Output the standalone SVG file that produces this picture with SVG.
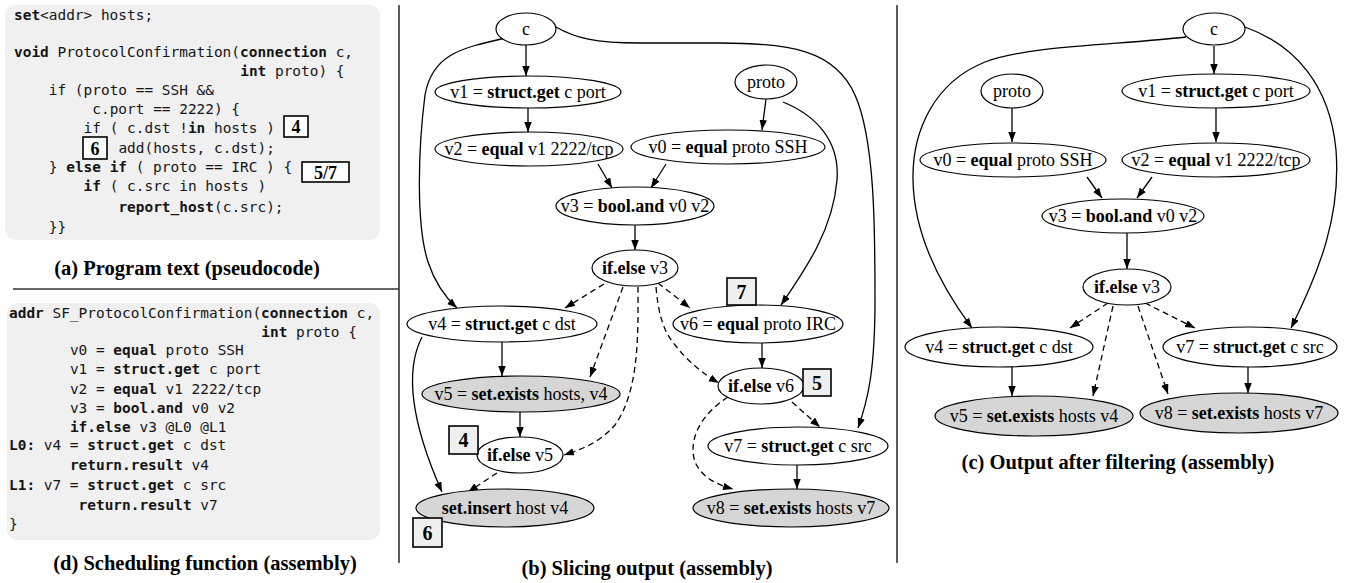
<svg xmlns="http://www.w3.org/2000/svg" width="1347" height="583" viewBox="0 0 1347 583">
<style>
.code{font-family:"DejaVu Sans Mono","Liberation Mono",monospace;font-size:14.45px;fill:#151515;white-space:pre}
.b{font-weight:bold}
.cap{font-family:"Liberation Serif","Times New Roman",serif;font-size:20.5px;font-weight:bold;text-anchor:middle;fill:#000}
.nt{font-family:"Liberation Serif","Times New Roman",serif;font-size:18px;text-anchor:middle;fill:#000}
.node{fill:#fff;stroke:#000;stroke-width:1.2}
.gray{fill:#d6d6d6;stroke:#000;stroke-width:1.2}
.e{fill:none;stroke:#000;stroke-width:1.3;marker-end:url(#ah)}
.d{stroke-dasharray:6,4}
.lbl{fill:#fff;stroke:#000;stroke-width:1.6}
.lblg{fill:#efefef;stroke:#000;stroke-width:1.6}
.ln{font-family:"Liberation Serif","Times New Roman",serif;font-size:20px;font-weight:bold;text-anchor:middle;fill:#000}
.sep{stroke:#333;stroke-width:1.6}
.panel{fill:#f0f0f0;stroke:none}
</style>
<defs>
<marker id="ah" markerUnits="userSpaceOnUse" markerWidth="11" markerHeight="8" refX="10" refY="3.75" orient="auto">
<path d="M0,0 L10,3.75 L0,7.5 z" fill="#000" stroke="none"/>
</marker>
</defs>

<!-- separators -->
<g id="separators">
<line class="sep" x1="13" y1="289" x2="399" y2="289"/>
<line class="sep" x1="399" y1="5" x2="399" y2="563"/>
<line class="sep" x1="897" y1="5" x2="897" y2="563"/>
</g>

<!-- Panel (a) -->
<g id="panel-a">
<rect class="panel" x="5" y="5" width="375" height="235" rx="11"/>
<text class="code" x="14" y="20" xml:space="preserve"><tspan class="b">set</tspan>&lt;addr&gt; hosts;</text>
<text class="code" x="14" y="57" xml:space="preserve"><tspan class="b">void</tspan> ProtocolConfirmation(<tspan class="b">connection</tspan> c,</text>
<text class="code" x="240.2" y="76" xml:space="preserve"><tspan class="b">int</tspan> proto) {</text>
<text class="code" x="48.8" y="95" xml:space="preserve">if (proto == SSH &amp;&amp;</text>
<text class="code" x="92.3" y="114" xml:space="preserve">c.port == 2222) {</text>
<text class="code" x="83.6" y="133" xml:space="preserve">if ( c.dst !<tspan class="b">in</tspan> hosts )</text>
<text class="code" x="118.4" y="153" xml:space="preserve">add(hosts, c.dst);</text>
<text class="code" x="48.8" y="172" xml:space="preserve">} <tspan class="b">else if</tspan> ( proto == IRC ) {</text>
<text class="code" x="83.6" y="191" xml:space="preserve"><tspan class="b">if</tspan> ( c.src in hosts )</text>
<text class="code" x="118.4" y="212" xml:space="preserve"><tspan class="b">report_host</tspan>(c.src);</text>
<text class="code" x="48.8" y="232" xml:space="preserve">}}</text>
<rect class="lbl" x="284" y="116" width="24" height="21"/>
<text class="ln" x="296" y="133" style="font-size:18px">4</text>
<rect class="lbl" x="83" y="137" width="24" height="22"/>
<text class="ln" x="95" y="155" style="font-size:18px">6</text>
<rect class="lbl" x="302" y="162" width="47" height="20"/>
<text class="ln" x="325.5" y="178.5" style="font-size:18px">5/7</text>
<text class="cap" x="187" y="275">(a) Program text (pseudocode)</text>
</g>

<!-- Panel (d) -->
<g id="panel-d">
<rect class="panel" x="7" y="303" width="373" height="237" rx="11"/>
<text class="code" x="9" y="318" xml:space="preserve"><tspan class="b">addr</tspan> SF_ProtocolConfirmation(<tspan class="b">connection</tspan> c,</text>
<text class="code" x="261.3" y="337" xml:space="preserve"><tspan class="b">int</tspan> proto {</text>
<text class="code" x="69.9" y="355" xml:space="preserve">v0 = <tspan class="b">equal</tspan> proto SSH</text>
<text class="code" x="69.9" y="374" xml:space="preserve">v1 = <tspan class="b">struct.get</tspan> c port</text>
<text class="code" x="69.9" y="394" xml:space="preserve">v2 = <tspan class="b">equal</tspan> v1 2222/tcp</text>
<text class="code" x="69.9" y="413" xml:space="preserve">v3 = <tspan class="b">bool.and</tspan> v0 v2</text>
<text class="code" x="69.9" y="432" xml:space="preserve"><tspan class="b">if.else</tspan> v3 @L0 @L1</text>
<text class="code" x="9" y="450" xml:space="preserve"><tspan class="b">L0:</tspan> v4 = <tspan class="b">struct.get</tspan> c dst</text>
<text class="code" x="69.9" y="470" xml:space="preserve"><tspan class="b">return.result</tspan> v4</text>
<text class="code" x="9" y="490" xml:space="preserve"><tspan class="b">L1:</tspan> v7 = <tspan class="b">struct.get</tspan> c src</text>
<text class="code" x="78.6" y="510" xml:space="preserve"><tspan class="b">return.result</tspan> v7</text>
<text class="code" x="9" y="529" xml:space="preserve">}</text>
<text class="cap" x="205" y="570">(d) Scheduling function (assembly)</text>
</g>

<!-- Panel (b) connectors -->
<g id="connectors-b">
<path class="e" d="M526,45 L526,76"/>
<path class="e" d="M506,38 C460,48 432,55 425,95 C418,150 416,225 428,262 C435,283 445,297 457,308"/>
<path class="e" d="M556,27 C575,38 595,43 640,43 L720,43 C790,43 835,50 855,95 C875,140 875,230 875,300 C875,370 868,400 858,428"/>
<path class="e" d="M766,99 L762,130"/>
<path class="e" d="M783,102 C815,115 840,140 837,180 C833,230 805,270 781,305"/>
<path class="e" d="M528,108 L528,132"/>
<path class="e" d="M598,164 L612,188"/>
<path class="e" d="M666,164 L651,188"/>
<path class="e" d="M635,225 L635,250"/>
<path class="e d" d="M604,284 L565,308"/>
<path class="e d" d="M623,287 L590,377"/>
<path class="e d" d="M638,287 C638,330 640,390 615,425 C600,442 585,448 564,455"/>
<path class="e d" d="M658,283 L690,308"/>
<path class="e d" d="M656,287 C658,310 662,330 675,345 C688,362 705,375 719,383"/>
<path class="e" d="M502,342 L502,376"/>
<path class="e" d="M422,337 C405,370 410,420 442,492"/>
<path class="e" d="M520,412 L520,437"/>
<path class="e d" d="M497,473 L468,492"/>
<path class="e" d="M762,343 L762,368"/>
<path class="e d" d="M792,402 L820,427"/>
<path class="e d" d="M728,397 C700,415 688,440 695,462 C702,478 718,485 733,489"/>
<path class="e" d="M797,465 L797,489"/>
</g>

<!-- Panel (b) nodes -->
<g id="b-c"><ellipse class="node" cx="526" cy="29" rx="30" ry="16"/><text class="nt" x="526" y="35">c</text></g>
<g id="b-v1"><ellipse class="node" cx="528" cy="92" rx="93" ry="16"/><text class="nt" x="528" y="98">v1 = <tspan class="b">struct.get</tspan> c port</text></g>
<g id="b-proto"><ellipse class="node" cx="766" cy="82" rx="31" ry="17"/><text class="nt" x="766" y="88">proto</text></g>
<g id="b-v2"><ellipse class="node" cx="529" cy="149" rx="94" ry="17"/><text class="nt" x="529" y="155">v2 = <tspan class="b">equal</tspan> v1 2222/tcp</text></g>
<g id="b-v0"><ellipse class="node" cx="728" cy="147" rx="97" ry="17"/><text class="nt" x="728" y="153">v0 = <tspan class="b">equal</tspan> proto SSH</text></g>
<g id="b-v3"><ellipse class="node" cx="635" cy="206" rx="79" ry="19"/><text class="nt" x="635" y="212">v3 = <tspan class="b">bool.and</tspan> v0 v2</text></g>
<g id="b-ifelse3"><ellipse class="node" cx="635" cy="268" rx="43" ry="18"/><text class="nt" x="635" y="274"><tspan class="b">if.else</tspan> v3</text></g>
<g id="b-v4"><ellipse class="node" cx="502" cy="324" rx="95" ry="18"/><text class="nt" x="502" y="330">v4 = <tspan class="b">struct.get</tspan> c dst</text></g>
<g id="b-v6"><ellipse class="node" cx="758" cy="324" rx="85" ry="19"/><text class="nt" x="758" y="330">v6 = <tspan class="b">equal</tspan> proto IRC</text></g>
<g id="b-v5"><ellipse class="gray" cx="521" cy="394" rx="99" ry="18"/><text class="nt" x="521" y="400">v5 = <tspan class="b">set.exists</tspan> hosts, v4</text></g>
<g id="b-ifelse5"><ellipse class="node" cx="520" cy="455" rx="43" ry="18"/><text class="nt" x="520" y="461"><tspan class="b">if.else</tspan> v5</text></g>
<g id="b-setinsert"><ellipse class="gray" cx="505" cy="508" rx="89" ry="19"/><text class="nt" x="505" y="514"><tspan class="b">set.insert</tspan> host v4</text></g>
<g id="b-ifelse6"><ellipse class="node" cx="761" cy="386" rx="43" ry="18"/><text class="nt" x="761" y="392"><tspan class="b">if.else</tspan> v6</text></g>
<g id="b-v7"><ellipse class="node" cx="798" cy="446" rx="90" ry="19"/><text class="nt" x="798" y="452">v7 = <tspan class="b">struct.get</tspan> c src</text></g>
<g id="b-v8"><ellipse class="gray" cx="791" cy="508" rx="98" ry="19"/><text class="nt" x="791" y="514">v8 = <tspan class="b">set.exists</tspan> hosts v7</text></g>
<g id="b-label4"><rect class="lblg" x="449" y="426" width="29" height="28"/><text class="ln" x="463.5" y="447">4</text></g>
<g id="b-label6"><rect class="lblg" x="413" y="518" width="29" height="29"/><text class="ln" x="427.5" y="540">6</text></g>
<g id="b-label7"><rect class="lblg" x="727" y="278" width="29" height="27"/><text class="ln" x="741.5" y="299">7</text></g>
<g id="b-label5"><rect class="lblg" x="803" y="369" width="28" height="27"/><text class="ln" x="817" y="390">5</text></g>
<text class="cap" x="647" y="575">(b) Slicing output (assembly)</text>

<!-- Panel (c) connectors -->
<g id="connectors-c">
<path class="e" d="M1214,46 L1214,74"/>
<path class="e" d="M1186,37 C1120,45 1030,45 985,62 C935,82 912,130 913,180 C914,235 940,285 972,328"/>
<path class="e" d="M1245,27 C1295,45 1330,85 1336,150 C1341,215 1320,270 1291,328"/>
<path class="e" d="M1012,108 L1012,142"/>
<path class="e" d="M1216,108 L1216,142"/>
<path class="e" d="M1087,177 L1102,198"/>
<path class="e" d="M1152,177 L1137,198"/>
<path class="e" d="M1127,233 L1127,269"/>
<path class="e d" d="M1108,303 L1070,328"/>
<path class="e d" d="M1113,306 L1093,396"/>
<path class="e d" d="M1138,306 L1168,394"/>
<path class="e d" d="M1145,303 L1195,328"/>
<path class="e" d="M1012,367 L1012,396"/>
<path class="e" d="M1248,367 L1248,393"/>
</g>

<!-- Panel (c) nodes -->
<g id="c-c"><ellipse class="node" cx="1214" cy="29" rx="31" ry="16"/><text class="nt" x="1214" y="35">c</text></g>
<g id="c-proto"><ellipse class="node" cx="1012" cy="91" rx="31" ry="17"/><text class="nt" x="1012" y="97">proto</text></g>
<g id="c-v1"><ellipse class="node" cx="1216" cy="91" rx="94" ry="17"/><text class="nt" x="1216" y="97">v1 = <tspan class="b">struct.get</tspan> c port</text></g>
<g id="c-v0"><ellipse class="node" cx="1013" cy="160" rx="93" ry="17"/><text class="nt" x="1013" y="166">v0 = <tspan class="b">equal</tspan> proto SSH</text></g>
<g id="c-v2"><ellipse class="node" cx="1216" cy="160" rx="94" ry="17"/><text class="nt" x="1216" y="166">v2 = <tspan class="b">equal</tspan> v1 2222/tcp</text></g>
<g id="c-v3"><ellipse class="node" cx="1123" cy="216" rx="81" ry="17"/><text class="nt" x="1123" y="222">v3 = <tspan class="b">bool.and</tspan> v0 v2</text></g>
<g id="c-ifelse3"><ellipse class="node" cx="1127" cy="287" rx="44" ry="18"/><text class="nt" x="1127" y="293"><tspan class="b">if.else</tspan> v3</text></g>
<g id="c-v4"><ellipse class="node" cx="999" cy="347" rx="94" ry="20"/><text class="nt" x="999" y="353">v4 = <tspan class="b">struct.get</tspan> c dst</text></g>
<g id="c-v7"><ellipse class="node" cx="1250" cy="347" rx="87" ry="20"/><text class="nt" x="1250" y="353">v7 = <tspan class="b">struct.get</tspan> c src</text></g>
<g id="c-v5"><ellipse class="gray" cx="1034" cy="416" rx="99" ry="20"/><text class="nt" x="1034" y="422">v5 = <tspan class="b">set.exists</tspan> hosts v4</text></g>
<g id="c-v8"><ellipse class="gray" cx="1239" cy="413" rx="99" ry="20"/><text class="nt" x="1239" y="419">v8 = <tspan class="b">set.exists</tspan> hosts v7</text></g>
<text class="cap" x="1118" y="469">(c) Output after filtering (assembly)</text>
</svg>
